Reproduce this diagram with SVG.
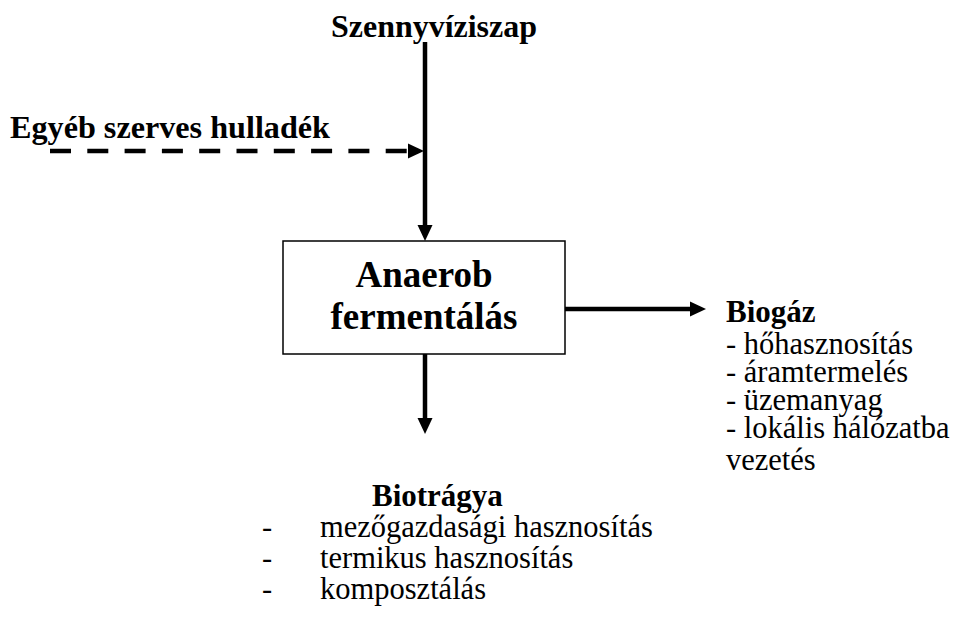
<svg xmlns="http://www.w3.org/2000/svg" width="963" height="621" viewBox="0 0 963 621">
<style>
.b{font-family:"Liberation Serif","Times New Roman",serif;font-weight:bold;fill:#000;font-size:31px}
.r{font-family:"Liberation Serif","Times New Roman",serif;fill:#000;font-size:30.5px}
.big{font-size:37px}
.ln{stroke:#000;stroke-width:4.5;fill:none}
.ah{fill:#000}
</style>
<rect width="963" height="621" fill="#fff"/>
<g id="connectors">
<line class="ln" x1="425" y1="42" x2="425" y2="226"/>
<polygon class="ah" points="417.5,225 432.5,225 425,241"/>
<line class="ln" x1="50" y1="151" x2="408" y2="151" stroke-dasharray="21 16.3"/>
<polygon class="ah" points="408,143.5 408,158.5 424,151"/>
<line class="ln" x1="565" y1="309" x2="691" y2="309"/>
<polygon class="ah" points="690,301.5 690,316.5 706,309"/>
<line class="ln" x1="425" y1="354" x2="425" y2="419"/>
<polygon class="ah" points="417.5,418 432.5,418 425,434"/>
</g>
<g id="szennyviziszap"><text class="b" x="331" y="37" textLength="206" lengthAdjust="spacingAndGlyphs">Szennyvíziszap</text></g>
<g id="egyeb"><text class="b" x="10" y="138" textLength="320" lengthAdjust="spacingAndGlyphs">Egyéb szerves hulladék</text></g>
<g id="anaerob">
<rect x="283" y="241" width="282" height="113" fill="#fff" stroke="#000" stroke-width="1.5"/>
<text class="b big" x="424" y="287" text-anchor="middle">Anaerob</text>
<text class="b big" x="424" y="329" text-anchor="middle">fermentálás</text>
</g>
<g id="biogaz">
<text class="b" x="726" y="322">Biogáz</text>
<text class="r" x="726" y="354">- hőhasznosítás</text>
<text class="r" x="726" y="382">- áramtermelés</text>
<text class="r" x="726" y="410">- üzemanyag</text>
<text class="r" x="726" y="438">- lokális hálózatba</text>
<text class="r" x="726" y="470">vezetés</text>
</g>
<g id="biotragya">
<text class="b" x="372" y="506">Biotrágya</text>
<text class="r" x="262" y="537">-</text>
<text class="r" x="320" y="537">mezőgazdasági hasznosítás</text>
<text class="r" x="262" y="568">-</text>
<text class="r" x="320" y="568">termikus hasznosítás</text>
<text class="r" x="262" y="599">-</text>
<text class="r" x="320" y="599">komposztálás</text>
</g>
</svg>
